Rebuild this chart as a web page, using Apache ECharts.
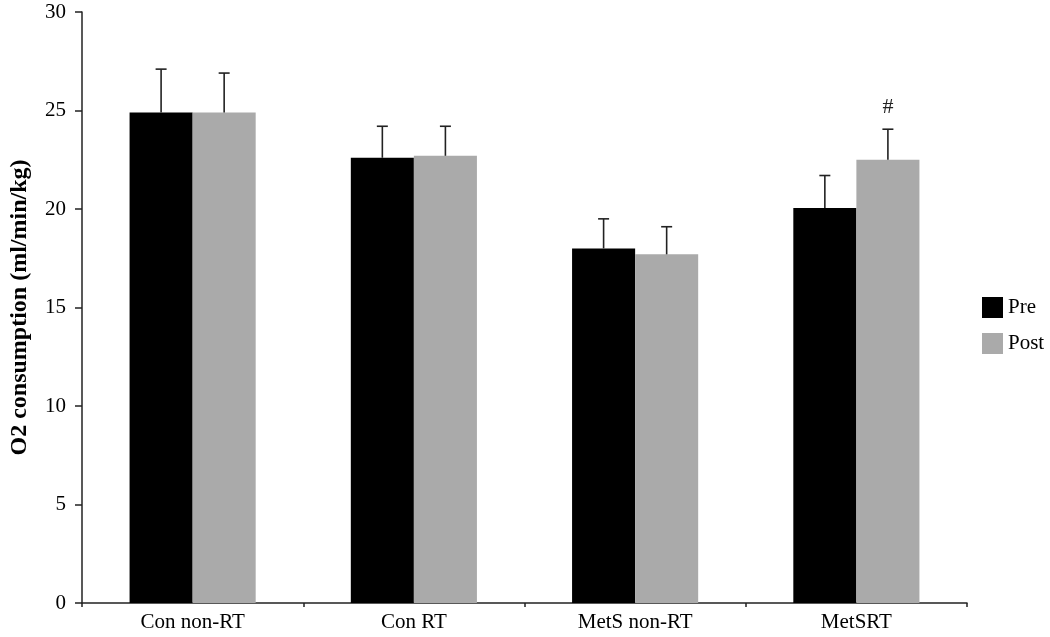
<!DOCTYPE html>
<html>
<head>
<meta charset="utf-8">
<script src="https://cdn.jsdelivr.net/npm/echarts@6/dist/echarts.min.js"></script>
<style>
  html, body { margin: 0; padding: 0; background: #fff; }
  #chart { width: 1050px; height: 637px; }
</style>
</head>
<body>
<div id="chart"></div>
<script>
// data
var groups = ['Con non-RT', 'Con RT', 'MetS non-RT', 'MetSRT']
var preMean = [24.9, 22.6, 18.0, 20.05]
var preErr = [2.2, 1.6, 1.5, 1.65]
var postMean = [24.9, 22.7, 17.7, 22.5]
var postErr = [2.0, 1.5, 1.4, 1.55]
var postNotes = ['', '', '', '#']

var BAR_W = 0.285
var FONT = '"Liberation Serif", "DejaVu Serif", serif'

function errorSeries(name, means, errs, side, notes) {
  return {
    name: name + ' err',
    type: 'custom',
    silent: true,
    z: 5,
    data: means.map(function (m, i) { return [i, m, m + errs[i]] }),
    renderItem: function (params, api) {
      var band = api.size([1, 0])[0]
      var base = api.coord([api.value(0), api.value(1)])
      var top = api.coord([api.value(0), api.value(2)])
      var x = base[0] + side * band * BAR_W / 2
      var style = { stroke: '#222', lineWidth: 1.6 }
      var children = [
        { type: 'line', shape: { x1: x, y1: base[1], x2: x, y2: top[1] }, style: style },
        { type: 'line', shape: { x1: x - 5.5, y1: top[1], x2: x + 5.5, y2: top[1] }, style: style }
      ]
      var note = notes && notes[params.dataIndex]
      if (note) {
        children.push({
          type: 'text',
          style: {
            text: note, x: x, y: top[1] - 22,
            align: 'center', verticalAlign: 'middle',
            font: '22px ' + FONT, fill: '#222'
          }
        })
      }
      return { type: 'group', children: children }
    }
  }
}

var chart = echarts.init(document.getElementById('chart'))
var option = {
  animation: false,
  textStyle: { fontFamily: FONT },
  grid: { left: 82, right: 83, top: 12, bottom: 34, containLabel: false },
  legend: {
    data: ['Pre', 'Post'],
    orient: 'vertical',
    left: 977,
    top: 292,
    itemWidth: 21,
    itemHeight: 21,
    itemGap: 15,
    icon: 'rect',
    textStyle: { fontFamily: FONT, fontSize: 21, color: '#000' }
  },
  xAxis: {
    type: 'category',
    data: groups,
    axisLine: { lineStyle: { color: '#222', width: 1.5 } },
    axisTick: { show: true, length: 4, lineStyle: { color: '#222', width: 1.5 } },
    axisLabel: { color: '#000', fontFamily: FONT, fontSize: 21, margin: 9 }
  },
  yAxis: {
    type: 'value',
    min: 0,
    max: 30,
    interval: 5,
    name: 'O2 consumption (ml/min/kg)',
    nameLocation: 'middle',
    nameGap: 50,
    nameTextStyle: { fontFamily: FONT, fontSize: 24, fontWeight: 'bold', color: '#000' },
    splitLine: { show: false },
    axisLine: { show: true, lineStyle: { color: '#222', width: 1.5 } },
    axisTick: { show: true, length: 7, lineStyle: { color: '#222', width: 1.5 } },
    axisLabel: { color: '#000', fontFamily: FONT, fontSize: 21, margin: 16 }
  },
  series: [
    {
      name: 'Pre', type: 'bar', data: preMean,
      barWidth: (BAR_W * 100) + '%', barGap: '0%',
      itemStyle: { color: '#000' }
    },
    {
      name: 'Post', type: 'bar', data: postMean,
      barWidth: (BAR_W * 100) + '%', barGap: '0%',
      itemStyle: { color: '#aaaaaa' }
    },
    errorSeries('Pre', preMean, preErr, -1, null),
    errorSeries('Post', postMean, postErr, 1, postNotes)
  ]
}
chart.setOption(option)
</script>
</body>
</html>
